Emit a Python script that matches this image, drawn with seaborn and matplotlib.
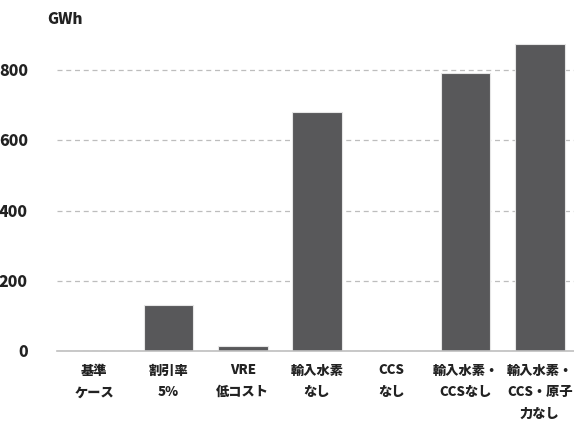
import matplotlib
matplotlib.use("Agg")
import matplotlib.pyplot as plt
import seaborn as sns
import pandas as pd

categories = ["基準\nケース", "割引率\n5%", "VRE\n低コスト", "輸入水素\nなし", "CCS\nなし",
              "輸入水素・\nCCSなし", "輸入水素・\nCCS・原子\n力なし"]
values = [0, 130, 15, 680, 0, 792, 875]
yticks = [0, 200, 400, 600, 800]
unit_label = "GWh"

sns.set_theme(style="white")
plt.rcParams['font.family'] = ['Noto Sans CJK JP', 'DejaVu Sans']
W = 'heavy'

df = pd.DataFrame({"cat": categories, "val": values})

fig = plt.figure(figsize=(5.74, 4.21), dpi=100)
ax = fig.add_axes([57/574, 70/421, 520/574, 316/421])
sns.barplot(data=df, x="cat", y="val", color="#58585a", saturation=1, width=0.67,
            edgecolor="#e6e6e6", linewidth=0.8, ax=ax, zorder=3)

ax.set_xlim(-0.5, 6.5)
ax.set_ylim(0, 900)
ax.set_yticks(yticks)
ax.set_yticklabels([str(t) for t in yticks], fontsize=11.5, fontweight=W, color="#222222")
ax.yaxis.grid(True, linestyle=(0, (4, 3)), color="#bdbdbd", linewidth=0.9, zorder=0)
ax.xaxis.grid(False)
ax.tick_params(axis='y', length=0, pad=21)
ax.tick_params(axis='x', length=0, pad=9)
for lbl in ax.get_xticklabels():
    lbl.set_fontsize(9.5)
    lbl.set_fontweight(W)
    lbl.set_color("#222222")
    lbl.set_linespacing(1.7)
    lbl.set_verticalalignment('top')
ax.set_xlabel("")
ax.set_ylabel("")
for s in ["top", "right", "left"]:
    ax.spines[s].set_visible(False)
ax.spines["bottom"].set_color("#bfbfbf")
ax.spines["bottom"].set_linewidth(1.2)
ax.spines["bottom"].set_zorder(4)

fig.text(47/574, 1 - 19/421, unit_label, fontsize=11, fontweight=W, color="#222222",
         ha='left', va='center')

fig.savefig("out.png", dpi=100)
